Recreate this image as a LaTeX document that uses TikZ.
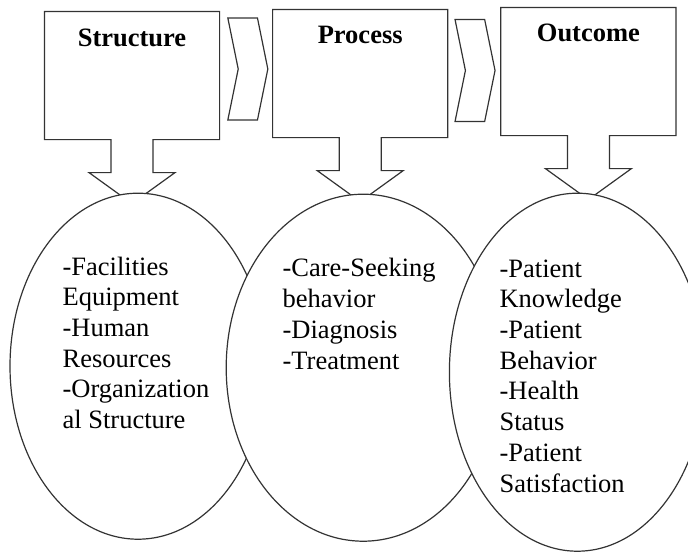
\documentclass[tikz,border=0pt]{standalone}
\usepackage{fontspec}
\setmainfont{Liberation Serif}
\usetikzlibrary{positioning, shapes.geometric, shapes.symbols}

\begin{document}
\begin{tikzpicture}[x=1pt, y=1pt, line width=1.2pt,
    box/.style={rectangle, minimum width=174pt, minimum height=127pt, inner sep=0pt},
    outline/.style={draw=black!80, fill=white, line join=miter},
    oval/.style={ellipse, draw=black!80, fill=white, inner sep=0pt},
    chevron/.style={signal, signal from=west, signal to=east, signal pointer angle=157,
        draw=black!80, fill=white, minimum width=40pt, minimum height=102pt, inner sep=0pt},
    title/.style={font=\fontsize{26.5}{30.7}\selectfont\bfseries, anchor=base, inner sep=0pt},
    items/.style={font=\fontsize{26.5}{30.7}\selectfont, align=left, anchor=base west, inner sep=0pt}]
    \useasboundingbox (0,-552) rectangle (688,0);

    % heading boxes (outline drawn below)
    \node[box] (struct) at (132,-75.5) {};
    \node[box, right=53pt of struct, yshift=2pt] (proc) {};
    \node[box, right=53pt of proc, yshift=2pt] (outc) {};

    % box with its down arrow as one outline
    \foreach \b in {struct, proc, outc}
        \draw[outline] (\b.north west) -- (\b.north east) -- (\b.south east)
            -- ([xshift=21pt]\b.south) -- ([xshift=21pt, yshift=-33pt]\b.south)
            -- ([xshift=43pt, yshift=-33pt]\b.south) -- ([yshift=-64pt]\b.south)
            -- ([xshift=-43pt, yshift=-33pt]\b.south) -- ([xshift=-21pt, yshift=-33pt]\b.south)
            -- ([xshift=-21pt]\b.south) -- (\b.south west) -- cycle;

    % west anchor of a signal is the inner point of its notch
    \node[chevron, right=18pt of struct, yshift=6.5pt] (next1) {};
    \node[chevron, right=17pt of proc, yshift=3pt] (next2) {};

    % ovals, each one lying over the one before
    \node[oval, minimum width=256pt, minimum height=346pt, below=53pt of struct, xshift=6pt] (structOval) {};
    \node[oval, minimum width=274pt, minimum height=347pt, below=56pt of proc, xshift=3pt] (procOval) {};
    \node[oval, minimum width=256pt, minimum height=358pt, below=57pt of outc, xshift=-11pt] (outcOval) {};

    \node[title] (structTitle) at ([yshift=-35pt]struct.north) {Structure};
    \node[title] (procTitle) at ([yshift=-34pt]proc.north) {Process};
    \node[title] (outcTitle) at ([yshift=-34pt]outc.north) {Outcome};

    % lists sit on the baseline of their last line
    \node[items] (structItems) at (62,-428.5) {-Facilities\\Equipment\\-Human\\Resources\\-Organization\\al Structure};
    \node[items] (procItems) at (282,-369) {-Care-Seeking\\behavior\\-Diagnosis\\-Treatment};
    \node[items] (outcItems) at (499,-492) {-Patient\\Knowledge\\-Patient\\Behavior\\-Health\\Status\\-Patient\\Satisfaction};
\end{tikzpicture}
\end{document}
